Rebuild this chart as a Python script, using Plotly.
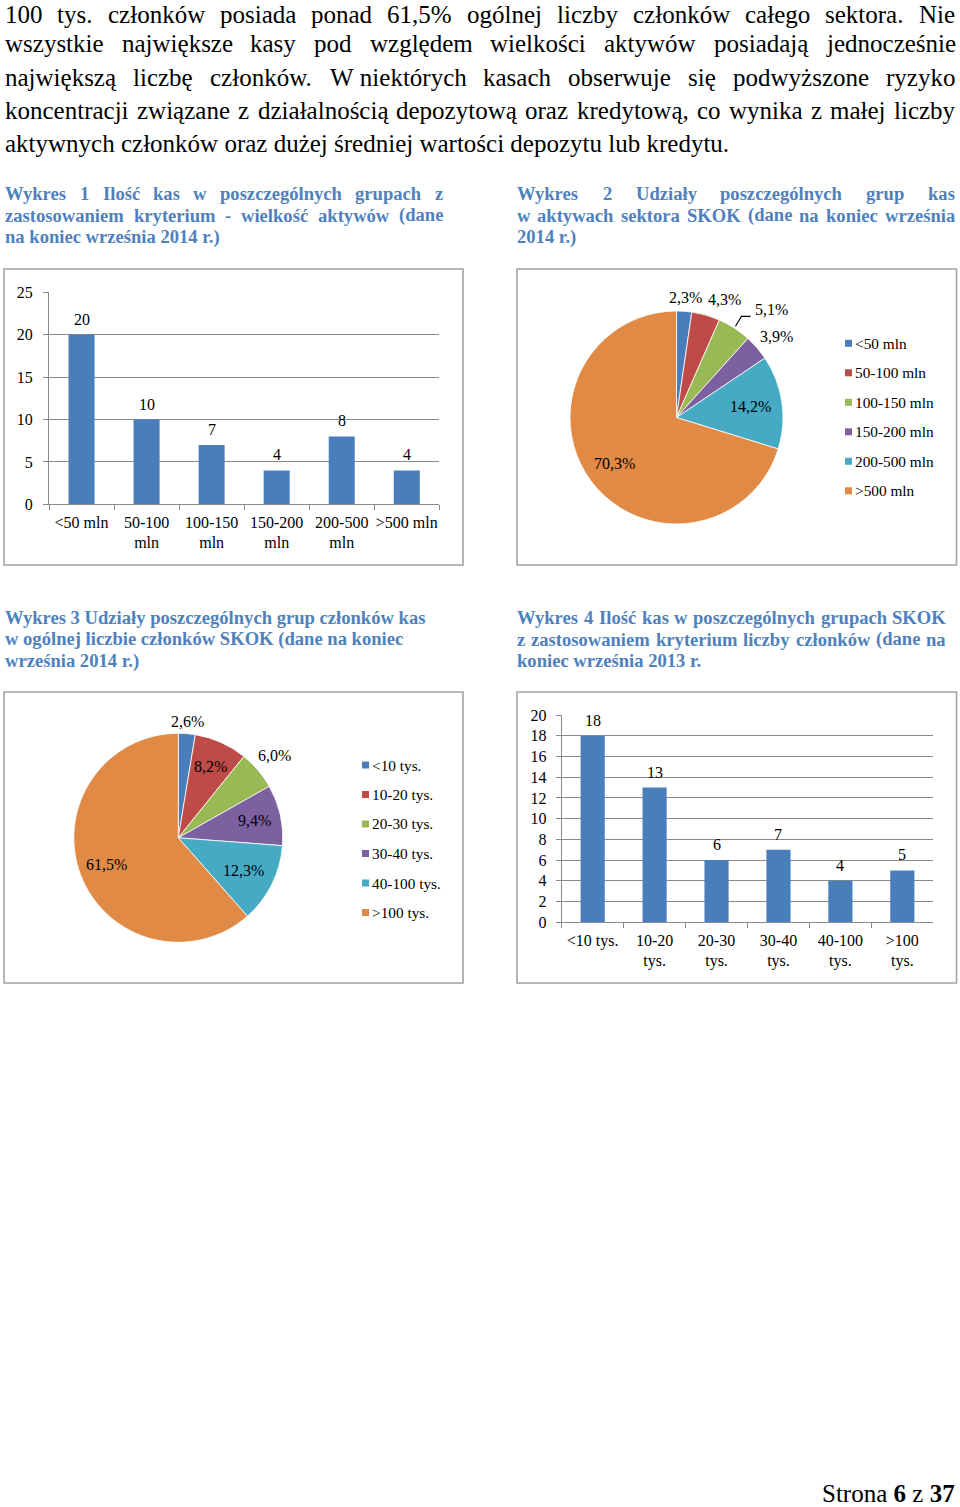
import math
import plotly.graph_objects as go

W, H = 960, 1507
SERIF = "Liberation Serif, Times New Roman, serif"

# ---------------- data ----------------
cats_assets = ["<50 mln", "50-100 mln", "100-150 mln", "150-200 mln", "200-500 mln", ">500 mln"]
ticks_assets = ["<50 mln", "50-100<br>mln", "100-150<br>mln", "150-200<br>mln", "200-500<br>mln", ">500 mln"]
count_assets = [20, 10, 7, 4, 8, 4]
share_assets = [2.3, 4.3, 5.1, 3.9, 14.2, 70.3]

cats_members = ["<10 tys.", "10-20 tys.", "20-30 tys.", "30-40 tys.", "40-100 tys.", ">100 tys."]
ticks_members = ["<10 tys.", "10-20<br>tys.", "20-30<br>tys.", "30-40<br>tys.", "40-100<br>tys.", ">100<br>tys."]
share_members = [2.6, 8.2, 6.0, 9.4, 12.3, 61.5]
count_members = [18, 13, 6, 7, 4, 5]

yticks_assets = [0, 5, 10, 15, 20, 25]
yticks_members = [0, 2, 4, 6, 8, 10, 12, 14, 16, 18, 20]

body_lines = [
    "100 tys. członków posiada ponad 61,5% ogólnej liczby członków całego sektora. Nie",
    "wszystkie największe kasy pod względem wielkości aktywów posiadają jednocześnie",
    "największą liczbę członków. W\u00a0niektórych kasach obserwuje się podwyższone ryzyko",
    "koncentracji związane z działalnością depozytową oraz kredytową, co wynika z małej liczby",
    "aktywnych członków oraz dużej średniej wartości depozytu lub kredytu.",
]
title1 = ["Wykres 1 Ilość kas w poszczególnych grupach z",
          "zastosowaniem kryterium - wielkość aktywów (dane",
          "na koniec września 2014 r.)"]
title2 = ["Wykres 2 Udziały poszczególnych grup kas",
          "w aktywach sektora SKOK (dane na koniec września",
          "2014 r.)"]
title3 = ["Wykres 3 Udziały poszczególnych grup członków kas",
          "w ogólnej liczbie członków SKOK (dane na koniec",
          "września 2014 r.)"]
title4 = ["Wykres 4 Ilość kas w poszczególnych grupach SKOK",
          "z zastosowaniem kryterium liczby członków (dane na",
          "koniec września 2013 r."]

# ---------------- styles ----------------
slice_colors = ["#4A7EBB", "#BE4B48", "#98B954", "#7D60A0", "#46AAC5", "#E08A45"]
bar_color = "#4A7EBB"
TITLE_COLOR = "#4F81BD"
AX = "#8A8A8A"
BOX = "#A3A3A3"

REG_W = {' ': 250, '\u00a0': 250, '%': 833, '(': 333, ')': 333, ',': 250, '-': 333, '.': 250,
         '<': 564, '>': 564,
         'A': 722, 'B': 667, 'C': 667, 'D': 722, 'E': 611, 'F': 556, 'G': 722, 'H': 722, 'I': 333,
         'J': 389, 'K': 722, 'L': 611, 'M': 889, 'N': 722, 'O': 722, 'P': 556, 'Q': 722, 'R': 667,
         'S': 556, 'T': 611, 'U': 722, 'V': 722, 'W': 944, 'X': 722, 'Y': 722, 'Z': 611,
         'a': 444, 'b': 500, 'c': 444, 'd': 500, 'e': 444, 'f': 333, 'g': 500, 'h': 500, 'i': 278,
         'j': 278, 'k': 500, 'l': 278, 'm': 778, 'n': 500, 'o': 500, 'p': 500, 'q': 500, 'r': 333,
         's': 389, 't': 278, 'u': 500, 'v': 500, 'w': 722, 'x': 500, 'y': 500, 'z': 444,
         'ą': 444, 'ć': 444, 'ę': 444, 'ł': 278, 'ń': 500, 'ó': 500, 'ś': 389, 'ź': 444, 'ż': 444}
BOLD_W = {' ': 250, '\u00a0': 250, '%': 1000, '(': 333, ')': 333, ',': 250, '-': 333, '.': 250,
          'A': 722, 'B': 667, 'C': 722, 'D': 722, 'E': 667, 'F': 611, 'G': 778, 'H': 778, 'I': 389,
          'J': 500, 'K': 778, 'L': 667, 'M': 944, 'N': 722, 'O': 778, 'P': 611, 'Q': 778, 'R': 722,
          'S': 556, 'T': 667, 'U': 722, 'V': 722, 'W': 1000, 'X': 722, 'Y': 722, 'Z': 667,
          'a': 500, 'b': 556, 'c': 444, 'd': 556, 'e': 444, 'f': 333, 'g': 500, 'h': 556, 'i': 278,
          'j': 333, 'k': 556, 'l': 278, 'm': 833, 'n': 556, 'o': 500, 'p': 556, 'q': 556, 'r': 444,
          's': 389, 't': 333, 'u': 556, 'v': 500, 'w': 722, 'x': 500, 'y': 500, 'z': 444,
          'ą': 500, 'ć': 444, 'ę': 444, 'ł': 278, 'ń': 556, 'ó': 500, 'ś': 389, 'ź': 444, 'ż': 444}


def esc(s):
    return s.replace("<br>", "\n").replace("<", "&lt;").replace(">", "&gt;").replace("\n", "<br>")


def px(x):
    return x / W


def py(y):
    return 1 - y / H


def tw(s, bold):
    t = BOLD_W if bold else REG_W
    return sum(t.get(c, 500) for c in s) / 1000.0


annotations = []
shapes = []


def text_line(s, left, yc, size, bold=False, color="black", right=None):
    font = dict(family=SERIF, size=size, color=color, weight="bold" if bold else "normal")
    base = dict(xref="paper", yref="paper", xanchor="left", yanchor="middle",
                showarrow=False, font=font, borderpad=0, borderwidth=0, y=py(yc))
    if right is None:
        annotations.append(dict(base, x=px(left), text=esc(s)))
        return
    words = s.split(" ")
    widths = [tw(w, bold) * size for w in words]
    gap = (right - left - sum(widths)) / (len(words) - 1)
    x = left
    for w, wd in zip(words, widths):
        annotations.append(dict(base, x=px(x), text=esc(w)))
        x += wd + gap


# body text
BODY_SIZE = 25
body_y = [15, 44, 77, 110, 143]
for i, line in enumerate(body_lines):
    text_line(line, 5, body_y[i], BODY_SIZE, right=955 if i < len(body_lines) - 1 else None)

TS = 18.6
for (l, r, ys, lines) in [(5, 443, 194, title1), (517, 955, 194, title2)]:
    text_line(lines[0], l, ys, TS, True, TITLE_COLOR, right=r)
    text_line(lines[1], l, ys + 21, TS, True, TITLE_COLOR, right=r)
    text_line(lines[2], l, ys + 43, TS, True, TITLE_COLOR)
for i, line in enumerate(title3):
    text_line(line, 5, 617 + 22 * i, TS, True, TITLE_COLOR)
text_line(title4[0], 517, 617, TS, True, TITLE_COLOR, right=946)
text_line(title4[1], 517, 639, TS, True, TITLE_COLOR, right=946)
text_line(title4[2], 517, 661, TS, True, TITLE_COLOR)

# page number
annotations.append(dict(xref="paper", yref="paper", x=px(955), y=py(1493), xanchor="right",
                        yanchor="middle", showarrow=False, borderpad=0, borderwidth=0,
                        text="Strona <b>6</b> z <b>37</b>",
                        font=dict(family=SERIF, size=25, color="black")))

# chart boxes
for (x0, y0, x1, y1) in [(4, 269, 463, 565), (517, 269, 956.5, 565), (4, 692, 463, 983), (517, 692, 956.5, 983)]:
    shapes.append(dict(type="rect", xref="paper", yref="paper", x0=px(x0), x1=px(x1), y0=py(y1), y1=py(y0),
                       line=dict(color=BOX, width=1.6), fillcolor="rgba(0,0,0,0)", layer="below"))

fig = go.Figure()

CF = dict(family=SERIF, size=16, color="black")

# ---- bar charts ----
fig.add_trace(go.Bar(x=cats_assets, y=count_assets, marker=dict(color=bar_color, line=dict(width=0)),
                     width=0.4, xaxis="x", yaxis="y", showlegend=False, hoverinfo="skip"))
fig.add_trace(go.Bar(x=cats_members, y=count_members, marker=dict(color=bar_color, line=dict(width=0)),
                     width=0.39, xaxis="x2", yaxis="y2", showlegend=False, hoverinfo="skip"))

for cats, vals, xr, yr in [(cats_assets, count_assets, "x", "y"), (cats_members, count_members, "x2", "y2")]:
    for c, v in zip(cats, vals):
        annotations.append(dict(xref=xr, yref=yr, x=c, y=v, text=str(v), showarrow=False,
                                yanchor="bottom", yshift=7, font=CF, borderpad=0, borderwidth=0))


def xaxis_cfg(dom, anchor, cats, ticks):
    return dict(domain=dom, anchor=anchor, type="category", categoryorder="array", categoryarray=cats,
                tickmode="array", tickvals=cats, ticktext=[esc(t) for t in ticks], tickangle=0,
                range=[-0.5, len(cats) - 0.5], showline=True, linecolor=AX, linewidth=1,
                ticks="outside", tickson="boundaries", ticklen=5, tickcolor=AX, tickwidth=1,
                showgrid=False, zeroline=False, tickfont=CF, ticklabelstandoff=3, fixedrange=True)


def yaxis_cfg(dom, anchor, rng, tv, standoff):
    return dict(domain=dom, anchor=anchor, range=rng, tickmode="array", tickvals=tv,
                showgrid=True, gridcolor=AX, gridwidth=1, showline=True, linecolor=AX, linewidth=1,
                ticks="outside", ticklen=5, tickcolor=AX, tickwidth=1, zeroline=False,
                tickfont=CF, ticklabelstandoff=standoff, fixedrange=True)


# ---- pies ----
def add_pie(vals, labels, cx, cy, R, rf, nudges):
    fig.add_trace(go.Pie(values=vals, labels=labels, sort=False, direction="clockwise", rotation=0,
                         marker=dict(colors=slice_colors, line=dict(color="white", width=0.8)),
                         textinfo="none", hoverinfo="skip", showlegend=False,
                         domain=dict(x=[px(cx - R), px(cx + R)], y=[py(cy + R), py(cy - R)])))
    total = sum(vals)
    cum = 0.0
    mids = []
    for i, v in enumerate(vals):
        mid = (cum + v / 2) / total * 2 * math.pi
        cum += v
        mids.append(mid)
        lx = cx + rf[i] * R * math.sin(mid) + nudges[i][0]
        ly = cy - rf[i] * R * math.cos(mid) + nudges[i][1]
        annotations.append(dict(xref="paper", yref="paper", x=px(lx), y=py(ly),
                                text=f"{v:.1f}%".replace(".", ","), showarrow=False,
                                xanchor="center", yanchor="middle", font=CF, borderpad=0, borderwidth=0))
    return mids


mids2 = add_pie(share_assets, cats_assets, 676.5, 417.5, 106.5,
                [1.13, 1.2, 1.35, 1.21, 0.70, 0.725],
                [(0, 0), (13, 5), (17, 13), (3, 3), (0, 0), (0, 0)])
add_pie(share_members, cats_members, 178.3, 837.8, 104.5,
        [1.12, 0.75, 1.21, 0.745, 0.70, 0.73],
        [(0, 0), (0, 0), (0, 0), (0, 0), (0, 0), (0, 0)])

# leader line for the 5,1% label
m = mids2[2]
sx = 676.5 + 1.02 * 106.5 * math.sin(m)
sy = 417.5 - 1.02 * 106.5 * math.cos(m)
ex, ey = sx + 6, sy - 10
shapes.append(dict(type="path", xref="paper", yref="paper",
                   path=f"M {px(sx)} {py(sy)} L {px(ex)} {py(ey)} L {px(ex + 9)} {py(ey)}",
                   line=dict(color="black", width=1.2)))

# manual legends
for labels, sqx, y0 in [(cats_assets, 845, 343.3), (cats_members, 362, 765)]:
    for i, lab in enumerate(labels):
        yc = y0 + 29.5 * i
        shapes.append(dict(type="rect", xref="paper", yref="paper", x0=px(sqx), x1=px(sqx + 7),
                           y0=py(yc + 3.5), y1=py(yc - 3.5), fillcolor=slice_colors[i], line=dict(width=0)))
        annotations.append(dict(xref="paper", yref="paper", x=px(sqx + 9.5), y=py(yc), text=esc(lab),
                                xanchor="left", yanchor="middle", showarrow=False, borderpad=0, borderwidth=0,
                                font=dict(family=SERIF, size=15.3, color="black")))

fig.update_layout(
    width=W, height=H, autosize=False,
    margin=dict(l=0, r=0, t=0, b=0, pad=0, autoexpand=False),
    paper_bgcolor="white", plot_bgcolor="white", showlegend=False,
    xaxis=xaxis_cfg([px(49), px(439.3)], "y", cats_assets, ticks_assets),
    yaxis=yaxis_cfg([py(504.3), py(292.3)], "x", [0, 25], yticks_assets, 7),
    xaxis2=xaxis_cfg([px(561.7), px(933.3)], "y2", cats_members, ticks_members),
    yaxis2=yaxis_cfg([py(922.3), py(715)], "x2", [0, 20], yticks_members, 6),
    annotations=annotations, shapes=shapes, bargap=0.6,
)

fig.write_html("out.html", config={"displayModeBar": False, "staticPlot": True},
               post_script="document.body.style.margin='0';document.body.style.overflow='hidden';")
